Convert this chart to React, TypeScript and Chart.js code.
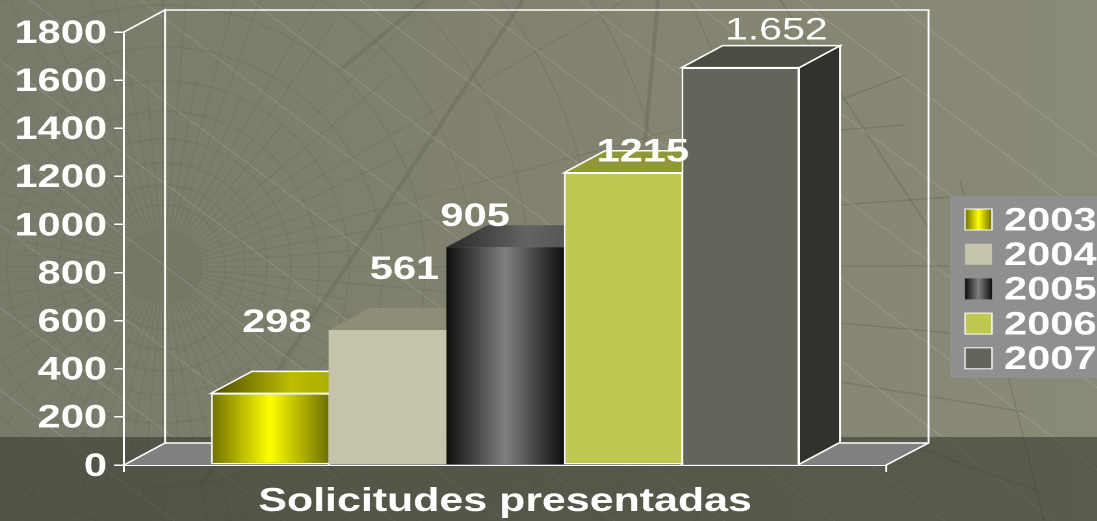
import React, { useEffect, useRef } from "react";
import { Chart, registerables } from "chart.js";

Chart.register(...registerables);

const categories = ["Solicitudes presentadas"];
const seriesNames = ["2003", "2004", "2005", "2006", "2007"];
const seriesValues = [298, 561, 905, 1215, 1652];
const valueLabels = ["298", "561", "905", "1215", "1.652"];
const axisMax = 1800;
const axisStep = 200;

const frontStops = [
  ["#6f6f00", "#ffff00", "#6f6f00"],
  ["#c5c3a9"],
  ["#0f0f0f", "#808080", "#0f0f0f"],
  ["#bfc84f"],
  ["#62665a"],
];
const topStops = [
  ["#4a4a00", "#bcbc00", "#a0a000"],
  ["#8e8d78"],
  ["#2a2a2a", "#636363", "#4a4a4a"],
  ["#8f9835"],
  ["#494c40"],
];
const sideColors = ["#555500", "#7e7d68", "#333333", "#737a2a", "#31322b"];
const outlined = [true, false, false, true, true];
const skippedEdge = ["right", "bottom", "bottom", "right", "bottom"];

const W = 1097;
const H = 521;
const S = 1.3; // the reference is stretched horizontally
const FONT = '"Liberation Sans", Arial, sans-serif';
const BOLD = `bold 32px ${FONT}`;
const PX = (x: number) => x / S;
const DX = PX(41);
const DY = 22;
const CAT_FRACTION = 588 / 762;
// label placement relative to the top centre of each bar (x, y in screen px)
const labelShift = [[7, -70], [17, -60], [-30, -30], [20, -20], [36, -37]];

function grad(ctx: CanvasRenderingContext2D, x0: number, x1: number, stops: string[]) {
  if (stops.length === 1) return stops[0];
  const g = ctx.createLinearGradient(x0, 0, x1, 0);
  stops.forEach((c, i) => g.addColorStop(i / (stops.length - 1), c));
  return g;
}

const solidFace = {
  id: "solidFace",
  beforeDatasetsDraw(chart: any) {
    const { ctx, chartArea: a } = chart;
    ctx.save();
    ctx.lineJoin = "miter";
    // floor
    ctx.fillStyle = "#808080";
    ctx.beginPath();
    ctx.moveTo(a.left, a.bottom);
    ctx.lineTo(a.left + DX, a.bottom - DY);
    ctx.lineTo(a.right + DX + 1, a.bottom - DY);
    ctx.lineTo(a.right, a.bottom);
    ctx.closePath();
    ctx.fill();
    // walls
    ctx.strokeStyle = "#ffffff";
    ctx.lineWidth = 1.5;
    ctx.beginPath();
    ctx.moveTo(a.left, a.bottom);
    ctx.lineTo(a.left + DX, a.bottom - DY);
    ctx.lineTo(a.left + DX, a.top - DY);
    ctx.lineTo(a.left, a.top);
    ctx.moveTo(a.left + DX, a.top - DY);
    ctx.lineTo(a.right + DX + 1, a.top - DY);
    ctx.lineTo(a.right + DX + 1, a.bottom - DY);
    ctx.lineTo(a.right, a.bottom);
    ctx.moveTo(a.left + DX, a.bottom - DY);
    ctx.lineTo(a.right + DX + 1, a.bottom - DY);
    ctx.stroke();
    // extruded faces
    chart.data.datasets.forEach((_: any, i: number) => {
      const bar = chart.getDatasetMeta(i).data[0];
      if (!bar) return;
      const { x, y, base, width } = bar.getProps(["x", "y", "base", "width"], true);
      const l = x - width / 2;
      const r = x + width / 2;
      ctx.fillStyle = sideColors[i];
      ctx.beginPath();
      ctx.moveTo(r, y);
      ctx.lineTo(r + DX, y - DY);
      ctx.lineTo(r + DX, base - DY);
      ctx.lineTo(r, base);
      ctx.closePath();
      ctx.fill();
      if (outlined[i]) ctx.stroke();
      ctx.fillStyle = grad(ctx, l, r + DX, topStops[i]);
      ctx.beginPath();
      ctx.moveTo(l, y);
      ctx.lineTo(r, y);
      ctx.lineTo(r + DX, y - DY);
      ctx.lineTo(l + DX, y - DY);
      ctx.closePath();
      ctx.fill();
      if (outlined[i]) ctx.stroke();
    });
    ctx.restore();
  },
  afterDatasetsDraw(chart: any) {
    const { ctx } = chart;
    ctx.save();
    ctx.fillStyle = "#ffffff";
    ctx.textAlign = "center";
    ctx.textBaseline = "middle";
    valueLabels.forEach((text, i) => {
      const bar = chart.getDatasetMeta(i).data[0];
      ctx.font = i === 4 ? `31.5px ${FONT}` : BOLD;
      ctx.fillText(text, bar.x + PX(labelShift[i][0]), bar.y + labelShift[i][1]);
    });
    ctx.restore();
  },
  afterDraw(chart: any) {
    const { ctx } = chart;
    ctx.save();
    ctx.fillStyle = "#8f8f8f";
    ctx.fillRect(PX(950), 196, PX(W - 950) + 2, 182);
    ctx.textBaseline = "middle";
    ctx.textAlign = "left";
    chart.data.datasets.forEach((ds: any, i: number) => {
      const cy = 219.5 + i * 34.7;
      const x0 = PX(965);
      const w = PX(27);
      ctx.fillStyle = grad(ctx, x0, x0 + w, frontStops[i]);
      ctx.fillRect(x0, cy - 10.5, w, 21);
      if (outlined[i]) {
        ctx.strokeStyle = "#ffffff";
        ctx.lineWidth = 1;
        ctx.strokeRect(x0, cy - 10.5, w, 21);
      }
      ctx.fillStyle = "#ffffff";
      ctx.font = BOLD;
      ctx.fillText(ds.label, PX(1004), cy + 2);
    });
    ctx.restore();
  },
};

function frontFill(c: any) {
  const chart = c.chart;
  const i = c.datasetIndex;
  const a = chart.chartArea;
  if (!a) return frontStops[i][Math.floor(frontStops[i].length / 2)];
  const groupLeft = a.left + (a.width * (1 - CAT_FRACTION)) / 2;
  const w = (a.width * CAT_FRACTION) / seriesValues.length;
  return grad(chart.ctx, groupLeft + i * w, groupLeft + (i + 1) * w, frontStops[i]);
}

// Decorative backdrop texture
const C = { x: 163, y: 267 };
const spokes: string[] = [];
for (let k = 0; k < 72; k++) {
  const t = (k * Math.PI * 2) / 72;
  const far = k % 3 === 0 ? 640 : k % 3 === 1 ? 300 : 190;
  spokes.push(`M${C.x + 38 * Math.cos(t)} ${C.y + 38 * Math.sin(t)}L${C.x + far * Math.cos(t)} ${C.y + far * Math.sin(t)}`);
}
const rings = [62, 82, 104, 128, 156, 186, 220, 262, 310, 365, 430, 505, 590];
const hair: number[] = [-520, -410, -300, -190, -80, 30, 140, 250, 360, 470, 580, 690, 800, 890];
const strokes: [number, number, number, number, number][] = [
  [340, 70, 425, 0, 4],
  [523, 0, 200, 487, 4],
  [658, 0, 645, 143, 4],
  [840, 205, 950, 197, 1.5],
  [840, 266, 950, 266, 1.5],
  [840, 323, 950, 333, 1.5],
  [840, 382, 1025, 412, 1.5],
  [960, 180, 1044, 521, 1.5],
  [905, 443, 1040, 492, 1.5],
  [780, 0, 930, 230, 1.5],
  [840, 100, 905, 75, 1.5],
  [840, 130, 905, 125, 1.5],
];

function Backdrop() {
  return (
    <svg width={W} height={H} style={{ position: "absolute", left: 0, top: 0 }}>
      <defs>
        <linearGradient id="bgGrad" x1="0" y1="0" x2="1" y2="0">
          <stop offset="0" stopColor="#7a7a6b" />
          <stop offset="0.5" stopColor="#82826f" />
          <stop offset="1" stopColor="#8a8a78" />
        </linearGradient>
      </defs>
      <rect width={W} height={H} fill="url(#bgGrad)" />
      <ellipse cx={C.x} cy={C.y} rx={40} ry={38} fill="#777768" />
      <path d={spokes.join("")} stroke="#6b6b5c" strokeWidth={1.2} fill="none" opacity={0.38} />
      {rings.map((r) => (
        <circle key={r} cx={C.x} cy={C.y} r={r} stroke="#6b6b5c" strokeWidth={1.3} fill="none" opacity={0.38} />
      ))}
      {strokes.map((s, i) => (
        <line key={i} x1={s[0]} y1={s[1]} x2={s[2]} y2={s[3]} stroke="#6e6e5f" strokeWidth={s[4]} opacity={0.55} />
      ))}
      {hair.map((x) => (
        <line key={x} x1={x} y1={0} x2={x + 720} y2={540} stroke="#ffffff" strokeWidth={0.6} opacity={0.28} />
      ))}
      <rect x={0} y={437} width={W} height={H - 437} fill="#2c3026" opacity={0.52} />
    </svg>
  );
}

export default function App() {
  const ref = useRef<HTMLCanvasElement>(null);
  useEffect(() => {
    const chart = new Chart(ref.current!, {
      type: "bar",
      data: {
        labels: categories,
        datasets: seriesNames.map((name, i) => ({
          label: name,
          data: [seriesValues[i]],
          backgroundColor: frontFill,
          borderColor: outlined[i] ? "#ffffff" : "rgba(0,0,0,0)",
          borderWidth: outlined[i] ? 1.4 : 0,
          borderSkipped: skippedEdge[i],
          categoryPercentage: CAT_FRACTION,
          barPercentage: 1,
        })),
      },
      options: {
        responsive: false,
        animation: false,
        devicePixelRatio: 2,
        layout: { padding: { left: 0, top: 32, right: W / S - PX(886), bottom: 0 } },
        plugins: { legend: { display: false }, title: { display: false }, tooltip: { enabled: false } },
        scales: {
          x: {
            afterFit: (s: any) => { s.height = H - 465; },
            border: { color: "#ffffff", width: 1.5 },
            grid: { color: "#ffffff", drawOnChartArea: false, tickLength: 7, lineWidth: 1.5 },
            ticks: { color: "#ffffff", font: { family: FONT, size: 33, weight: "bold" }, padding: 10, maxRotation: 0 },
          },
          y: {
            min: 0,
            max: axisMax,
            afterFit: (s: any) => { s.width = PX(124); },
            border: { color: "#ffffff", width: 1.5 },
            grid: { color: "#ffffff", drawOnChartArea: false, tickLength: PX(10), lineWidth: 1.5 },
            ticks: {
              color: "#ffffff",
              stepSize: axisStep,
              font: { family: FONT, size: 32, weight: "bold" },
              padding: PX(7),
              labelOffset: 2,
              callback: (v: any) => String(v),
            },
          },
        },
      },
      plugins: [solidFace],
    } as any);
    return () => chart.destroy();
  }, []);
  return (
    <div style={{ position: "absolute", left: 0, top: 0, width: W, height: H, overflow: "hidden" }}>
      <Backdrop />
      <canvas
        ref={ref}
        width={Math.ceil(W / S)}
        height={H}
        style={{ position: "absolute", left: 0, top: 0, transform: `scaleX(${S})`, transformOrigin: "0 0" }}
      />
    </div>
  );
}
